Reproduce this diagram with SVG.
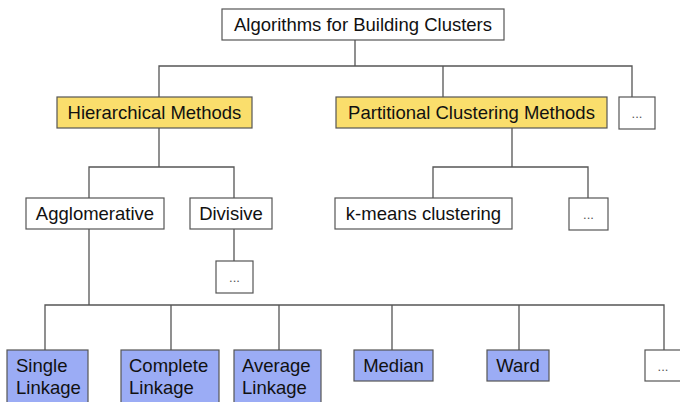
<svg xmlns="http://www.w3.org/2000/svg" width="680" height="402" viewBox="0 0 680 402">
<style>
.box{stroke:#555;stroke-width:1.2}
.w{fill:#fff}
.y{fill:#fade6c}
.b{fill:#9bacf5}
.t{font-family:"Liberation Sans",Arial,sans-serif;font-size:18.5px;fill:#111}
.c{text-anchor:middle}
.d{font-family:"Liberation Sans",Arial,sans-serif;font-size:13px;fill:#555;text-anchor:middle}
.ln{stroke:#555;stroke-width:1.3;fill:none}
</style>
<rect width="680" height="402" fill="#fff"/>
<g id="connectors" class="ln">
<path d="M355,40V66M159,97V66H632V97M443,66V97"/>
<path d="M159,128V167M89,198V167H234V198"/>
<path d="M512,128V167M433,198V167H588V198"/>
<path d="M234,229V261"/>
<path d="M89,229V305M45,350V305H664V350M171,305V350M279,305V350M392,305V350M519,305V350"/>
</g>
<g id="root"><rect class="box w" x="222" y="9" width="282" height="31"/><text class="t c" x="363" y="31">Algorithms for Building Clusters</text></g>
<g id="hierarchical"><rect class="box y" x="57" y="97" width="195" height="31"/><text class="t c" x="154.5" y="119">Hierarchical Methods</text></g>
<g id="partitional"><rect class="box y" x="336" y="97" width="271" height="31"/><text class="t c" x="471.5" y="119">Partitional Clustering Methods</text></g>
<g id="more1"><rect class="box w" x="619" y="97" width="36" height="32"/><text class="d" x="637" y="118">...</text></g>
<g id="agglomerative"><rect class="box w" x="26" y="198" width="138" height="31"/><text class="t c" x="95" y="220">Agglomerative</text></g>
<g id="divisive"><rect class="box w" x="190" y="198" width="82" height="31"/><text class="t c" x="231" y="220">Divisive</text></g>
<g id="kmeans"><rect class="box w" x="335" y="198" width="177" height="31"/><text class="t c" x="423.5" y="220">k-means clustering</text></g>
<g id="more2"><rect class="box w" x="569" y="198" width="39" height="32"/><text class="d" x="588.5" y="219">...</text></g>
<g id="more3"><rect class="box w" x="216" y="261" width="37" height="32"/><text class="d" x="234.5" y="282">...</text></g>
<g id="single"><rect class="box b" x="7" y="350" width="81" height="60"/><text class="t" x="16" y="372">Single</text><text class="t" x="16" y="394">Linkage</text></g>
<g id="complete"><rect class="box b" x="121" y="350" width="98" height="60"/><text class="t" x="129" y="372">Complete</text><text class="t" x="129" y="394">Linkage</text></g>
<g id="average"><rect class="box b" x="234" y="350" width="87" height="60"/><text class="t" x="242" y="372">Average</text><text class="t" x="242" y="394">Linkage</text></g>
<g id="median"><rect class="box b" x="354" y="350" width="79" height="31"/><text class="t c" x="393.5" y="372">Median</text></g>
<g id="ward"><rect class="box b" x="487" y="350" width="62" height="31"/><text class="t c" x="518" y="372">Ward</text></g>
<g id="more4"><rect class="box w" x="645" y="350" width="38" height="31"/><text class="d" x="663" y="371">...</text></g>
</svg>
